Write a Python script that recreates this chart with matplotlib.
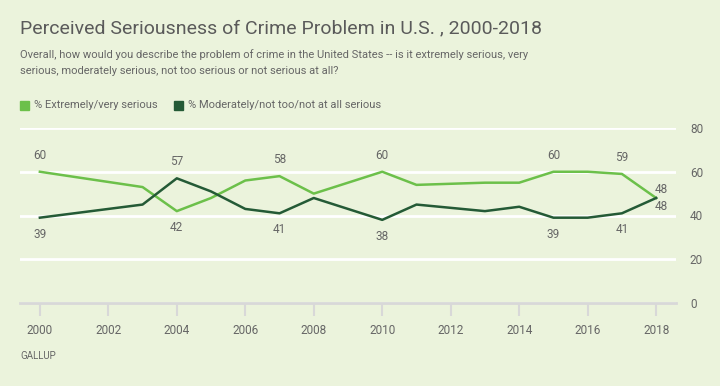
import matplotlib.pyplot as plt

years = [2000, 2003, 2004, 2005, 2006, 2007, 2008, 2010, 2011, 2013, 2014, 2015, 2016, 2017, 2018]
serious = [60, 53, 42, 48, 56, 58, 50, 60, 54, 55, 55, 60, 60, 59, 48]
not_serious = [39, 45, 57, 51, 43, 41, 48, 38, 45, 42, 44, 39, 39, 41, 48]

# which points get a label, and whether above (+1) or below (-1)
serious_labels = {2000: 1, 2004: -1, 2007: 1, 2010: 1, 2015: 1, 2017: 1, 2018: 1}
not_serious_labels = {2000: -1, 2004: 1, 2007: -1, 2010: -1, 2015: -1, 2017: -1, 2018: -1}

bg = '#ebf3dc'
light = '#6cc04a'
dark = '#245a36'
grey = '#666666'

plt.rcParams['font.family'] = ['Roboto', 'DejaVu Sans']

fig = plt.figure(figsize=(7.2, 3.86), dpi=100, facecolor=bg)
ax = fig.add_axes([20 / 720, 83 / 386, 656 / 720, 175 / 386], facecolor=bg)

ax.plot(years, serious, color=light, lw=1.8, zorder=3)
ax.plot(years, not_serious, color=dark, lw=1.8, zorder=3)

for series, labels in [(serious, serious_labels), (not_serious, not_serious_labels)]:
    for yr, side in labels.items():
        v = series[years.index(yr)]
        # the last pair sits close together, nudged right
        off = (4, 6 * side) if yr == 2018 else (0, 12 * side)
        ax.annotate(str(v), (yr, v), xytext=off, textcoords='offset points',
                    ha='center', va='center', fontsize=8.5, color=grey)

ax.set_xlim(1999.42, 2018.58)
ax.set_ylim(0, 80)
ax.set_yticks([0, 20, 40, 60, 80])
ax.yaxis.tick_right()
ax.yaxis.grid(True, color='white', lw=2)
ax.set_axisbelow(True)
ax.tick_params(axis='y', length=0, pad=10, labelsize=8.5, labelcolor=grey)
ax.set_xticks(range(2000, 2019, 2))
ax.tick_params(axis='x', length=9, width=1.5, color='#d8d8d8', pad=6, labelsize=8.5, labelcolor=grey)
for s in ['top', 'left', 'right']:
    ax.spines[s].set_visible(False)
ax.spines['bottom'].set_color('#d8d8d8')
ax.spines['bottom'].set_linewidth(2)

fig.text(20 / 720, 1 - 28 / 386, 'Perceived Seriousness of Crime Problem in U.S. , 2000-2018',
         fontsize=14, color='#5a5a5a', va='center')
fig.text(20 / 720, 1 - 55 / 386,
         'Overall, how would you describe the problem of crime in the United States -- is it extremely serious, very',
         fontsize=8, color=grey, va='center')
fig.text(20 / 720, 1 - 71 / 386, 'serious, moderately serious, not too serious or not serious at all?',
         fontsize=8, color=grey, va='center')

# legend
fig.patches.append(plt.Rectangle((20 / 720, 1 - 110 / 386), 9 / 720, 9 / 386,
                                 transform=fig.transFigure, color=light))
fig.text(34 / 720, 1 - 105 / 386, '% Extremely/very serious', fontsize=8, color=grey, va='center')
fig.patches.append(plt.Rectangle((174 / 720, 1 - 110 / 386), 9 / 720, 9 / 386,
                                 transform=fig.transFigure, color=dark))
fig.text(188 / 720, 1 - 105 / 386, '% Moderately/not too/not at all serious', fontsize=8, color=grey, va='center')

fig.text(20 / 720, 1 - 356 / 386, 'GALLUP', fontsize=7, color=grey, va='center')

fig.savefig('out.png', dpi=100, facecolor=bg)
